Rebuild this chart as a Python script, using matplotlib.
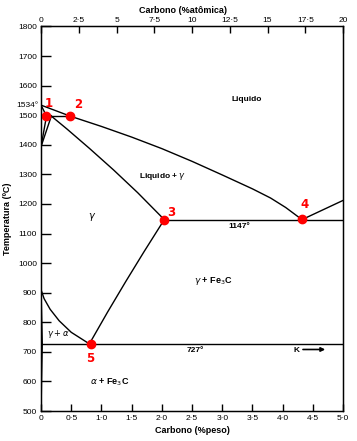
import matplotlib
matplotlib.use('Agg')
import matplotlib.pyplot as plt

plt.rcParams['font.family'] = ['Liberation Sans', 'DejaVu Sans']
plt.rcParams['mathtext.fontset'] = 'dejavusans'

# phase boundaries (wt% C, temperature in C)
liquidus_wt = [0, 0.48, 1.0, 1.5, 2.0, 2.5, 3.0, 3.5, 3.8, 4.05, 4.32]
liquidus_T = [1534, 1497, 1462, 1426, 1387, 1344, 1298, 1251, 1220, 1188, 1147]
cem_liquidus_wt = [4.32, 5.0]
cem_liquidus_T = [1147, 1212]
delta_sol_wt = [0, 0.09]
delta_sol_T = [1534, 1497]
peritectic_wt = [0.09, 0.48]
peritectic_T = [1497, 1497]
delta1_wt = [0.09, 0]
delta1_T = [1497, 1394]
delta2_wt = [0.17, 0]
delta2_T = [1497, 1394]
solidus_wt = [0.17, 0.425, 0.8, 1.2, 1.6, 2.04]
solidus_T = [1497, 1454, 1388, 1315, 1238, 1147]
eutectic_wt = [2.04, 5.0]
eutectic_T = [1147, 1147]
acm_wt = [0.8, 1.1, 1.4, 1.7, 2.04]
acm_T = [727, 834, 937, 1037, 1147]
a3_wt = [0, 0.05, 0.15, 0.3, 0.5, 0.8]
a3_T = [910, 880, 844, 805, 766, 727]
ferrite_wt = [0, 0.02, 0.008, 0]
ferrite_T = [910, 727, 600, 500]
eutectoid_wt = [0.02, 5.0]
eutectoid_T = [727, 727]

# marked points
pt_wt = [0.08, 0.48, 2.04, 4.32, 0.82]
pt_T = [1497, 1497, 1145, 1150, 725]
pt_lbl = ['1', '2', '3', '4', '5']
lbl_wt = [0.12, 0.61, 2.16, 4.37, 0.82]
lbl_T = [1538, 1535, 1172, 1197, 676]

# ticks
wt_ticks = [0, 0.5, 1.0, 1.5, 2.0, 2.5, 3.0, 3.5, 4.0, 4.5, 5.0]
wt_labels = ['0', '0·5', '1·0', '1·5', '2·0', '2·5', '3·0', '3·5', '4·0', '4·5', '5·0']
at_ticks = [0, 2.5, 5, 7.5, 10, 12.5, 15, 17.5, 20]
at_labels = ['0', '2·5', '5', '7·5', '10', '12·5', '15', '17·5', '20']
T_ticks = [500, 600, 700, 800, 900, 1000, 1100, 1200, 1300, 1400, 1500, 1600, 1700, 1800]

fig = plt.figure(figsize=(3.57, 4.41), dpi=100)
ax = fig.add_axes([0.115, 0.068, 0.846, 0.872])

segs = [(liquidus_wt, liquidus_T), (cem_liquidus_wt, cem_liquidus_T),
        (delta_sol_wt, delta_sol_T), (peritectic_wt, peritectic_T),
        (delta1_wt, delta1_T), (delta2_wt, delta2_T),
        (solidus_wt, solidus_T), (eutectic_wt, eutectic_T),
        (acm_wt, acm_T), (a3_wt, a3_T), (ferrite_wt, ferrite_T),
        (eutectoid_wt, eutectoid_T)]
for xs, ys in segs:
    ax.plot(xs, ys, color='black', lw=1.0)

ax.set_xlim(0, 5)
ax.set_ylim(500, 1800)
ax.set_xticks(wt_ticks)
ax.set_xticklabels(wt_labels)
ax.set_yticks(T_ticks)
ax.set_yticklabels([str(t) for t in T_ticks])
ax.tick_params(axis='x', direction='in', length=5.3, width=1, labelsize=6, pad=3)
ax.tick_params(axis='y', direction='in', length=7.2, width=1, labelsize=6, pad=3)
for s in ax.spines.values():
    s.set_linewidth(1)
ax.set_xlabel('Carbono (%peso)', fontsize=6.5, fontweight='bold', labelpad=3)
ax.set_ylabel('Temperatura (ºC)', fontsize=6.5, fontweight='bold', labelpad=4)
ax.text(-0.04, 1534, '1534°', fontsize=6, ha='right', va='center')

ax2 = ax.twiny()
ax2.set_xlim(0, 20)
ax2.set_xticks(at_ticks)
ax2.set_xticklabels(at_labels)
ax2.tick_params(axis='x', direction='in', length=5, width=1, labelsize=6, pad=2)
ax2.set_xlabel('Carbono (%atômica)', fontsize=6.5, fontweight='bold', labelpad=3)
ax2.xaxis.set_label_coords(0.47, 1.035)

# region labels
ax.text(3.41, 1553, 'Liquido', fontsize=6, fontweight='bold', ha='center', va='center')
ax.text(2.01, 1294, r'Liquido + $\gamma$', fontsize=6, fontweight='bold', ha='center', va='center')
ax.text(0.84, 1157, r'$\gamma$', fontsize=7, ha='center', va='center')
ax.text(3.28, 1124, '1147°', fontsize=6, fontweight='bold', ha='center', va='center')
ax.text(2.85, 940, r'$\gamma$ + Fe$_3$C', fontsize=6.5, fontweight='bold', ha='center', va='center')
ax.text(0.29, 761, r'$\gamma + \alpha$', fontsize=6, ha='center', va='center')
ax.text(2.55, 704, '727°', fontsize=6, fontweight='bold', ha='center', va='center')
ax.text(1.14, 598, r'$\alpha$ + Fe$_3$C', fontsize=6.5, fontweight='bold', ha='center', va='center')
ax.text(4.23, 706, 'K', fontsize=6, fontweight='bold', ha='center', va='center')
ax.annotate('', xy=(4.75, 708), xytext=(4.29, 708),
            arrowprops=dict(arrowstyle='-|>', color='black', lw=1.2, mutation_scale=6))

ax.plot(pt_wt, pt_T, 'o', color='red', markersize=6, zorder=5)
for x, y, t in zip(lbl_wt, lbl_T, pt_lbl):
    ax.text(x, y, t, color='red', fontsize=8.5, fontweight='bold',
            family='DejaVu Sans', ha='center', va='center')

fig.savefig('out.png', dpi=100)
